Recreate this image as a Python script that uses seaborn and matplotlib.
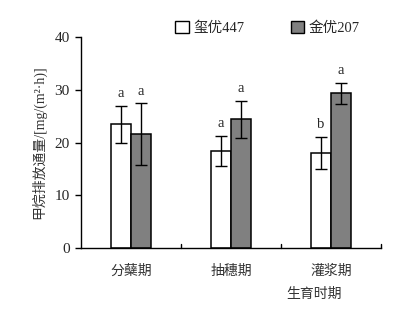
import matplotlib
matplotlib.use("Agg")
import matplotlib.pyplot as plt
import seaborn as sns
import pandas as pd
import numpy as np
from matplotlib.patches import Patch

# Growth stages and cultivars
stages = ["分蘖期", "抽穗期", "灌浆期"]
cultivars = ["玺优447", "金优207"]

# Mean CH4 flux and standard deviation per cultivar
flux_447 = [23.5, 18.4, 18.0]
err_447 = [3.5, 2.9, 3.1]
flux_207 = [21.6, 24.4, 29.3]
err_207 = [5.8, 3.5, 2.0]

# Significance letters
sig_447 = ["a", "a", "b"]
sig_207 = ["a", "a", "a"]

sns.set_theme(style="white")
plt.rcParams["font.family"] = ["Liberation Serif", "Noto Sans CJK SC", "DejaVu Sans"]
plt.rcParams["axes.unicode_minus"] = False

df = pd.DataFrame({
    "stage": stages * 2,
    "cultivar": [cultivars[0]] * 3 + [cultivars[1]] * 3,
    "flux": flux_447 + flux_207,
    "err": err_447 + err_207,
    "sig": sig_447 + sig_207,
})

fig = plt.figure(figsize=(4.08, 3.25), dpi=100)
ax = fig.add_axes([0.1985, 0.237, 0.7355, 0.649])

palette = {cultivars[0]: "white", cultivars[1]: "#808080"}
sns.barplot(data=df, x="stage", y="flux", hue="cultivar", order=stages,
            hue_order=cultivars, palette=palette, width=0.4, gap=0,
            errorbar=None, edgecolor="black", linewidth=1.1, ax=ax,
            legend=False)

# Error bars and letters placed on each bar centre
for ci, cv in enumerate(cultivars):
    sub = df[df["cultivar"] == cv].set_index("stage").loc[stages]
    bars = ax.containers[ci]
    for bar, (_, row) in zip(bars, sub.iterrows()):
        xc = bar.get_x() + bar.get_width() / 2
        ax.errorbar(xc, row["flux"], yerr=row["err"], fmt="none",
                    ecolor="black", elinewidth=1.0, capsize=4, capthick=1.0)
        ax.annotate(row["sig"], (xc, row["flux"] + row["err"]),
                    xytext=(0, 4), textcoords="offset points",
                    ha="center", va="bottom", fontsize=10.5,
                    fontfamily="Liberation Serif")

ax.set_xlim(-0.5, 2.5)
ax.set_ylim(0, 40)
ax.set_yticks([0, 10, 20, 30, 40])
ax.tick_params(axis="y", direction="out", length=4, width=1, color="black",
               labelsize=11, pad=4, left=True)
ax.tick_params(axis="x", length=0, labelsize=10, pad=12)
for x in [0.5, 1.5, 2.5]:
    ax.plot([x, x], [0, 0.7], color="black", lw=1, clip_on=False)

sns.despine(ax=ax)
for s in ["left", "bottom"]:
    ax.spines[s].set_color("black")
    ax.spines[s].set_linewidth(1.0)

ax.set_xlabel("")
ax.set_ylabel("甲烷排放通量/[mg/(m²·h)]", fontsize=10, color="#333333", labelpad=6)
for lab in ax.get_xticklabels():
    lab.set_color("#333333")

fig.text(0.77, 0.095, "生育时期", ha="center", va="center", fontsize=10, color="#333333")

handles = [Patch(facecolor=palette[c], edgecolor="black", linewidth=1.0, label=c)
           for c in cultivars]
fig.legend(handles=handles, loc="center", bbox_to_anchor=(0.655, 0.915), ncol=2,
           frameon=False, fontsize=10.5, handlelength=0.9, handleheight=0.9,
           handletextpad=0.3, columnspacing=3.2)

fig.savefig("out.png", dpi=100)
